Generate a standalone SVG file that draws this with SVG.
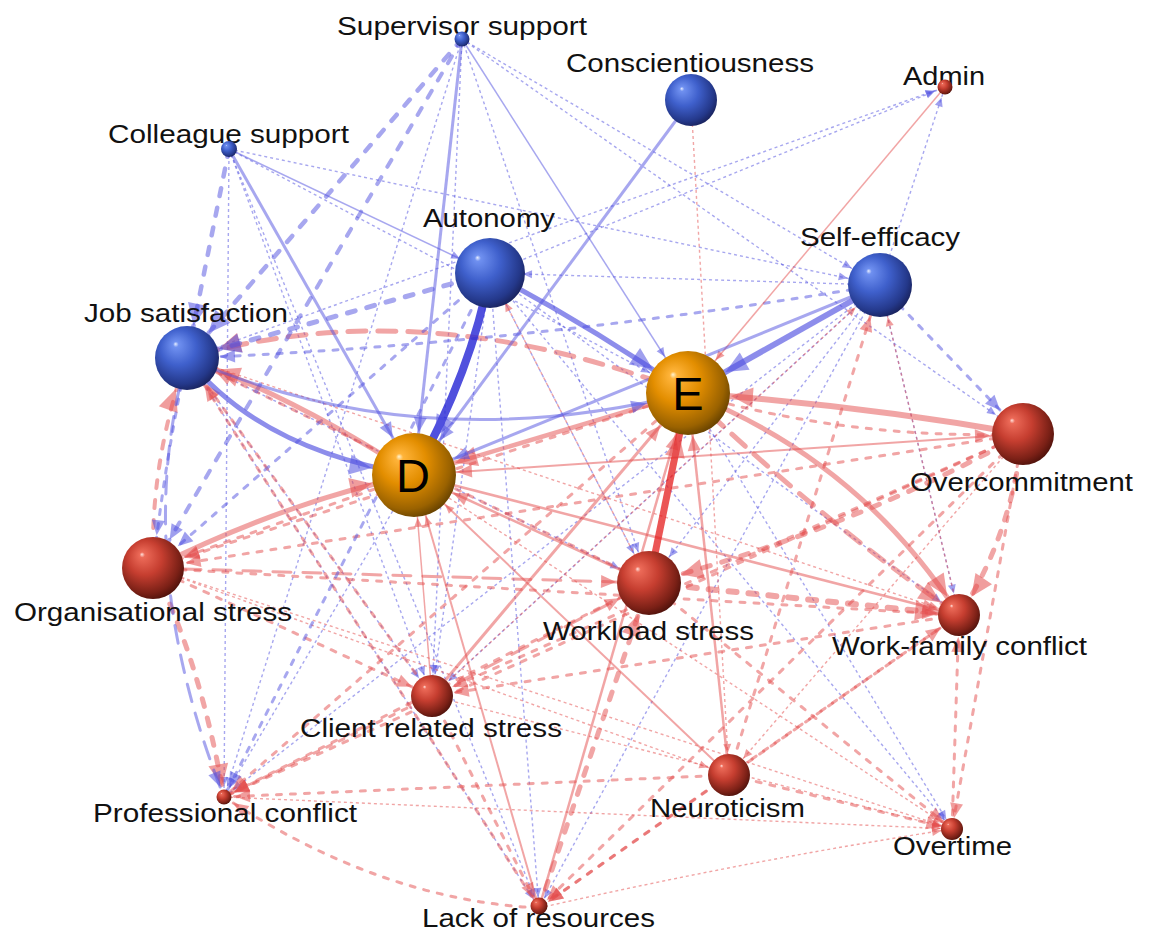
<svg xmlns="http://www.w3.org/2000/svg" width="1149" height="935" viewBox="0 0 1149 935">
<style>
.b{fill:none;stroke:#5050e0;stroke-opacity:.5}
.r{fill:none;stroke:#e44c4c;stroke-opacity:.5}
.bd{fill:none;stroke:#2a2ad6;stroke-opacity:.82}
.rd{fill:none;stroke:#e41c1c;stroke-opacity:.75}
.dot{stroke-width:1.4;stroke-dasharray:3 3}
.dsh{stroke-width:3;stroke-dasharray:5 9;stroke-linecap:round}
.thd{stroke-width:5;stroke-dasharray:8 12;stroke-linecap:round}
.lng{stroke-width:4.5;stroke-dasharray:18 12;stroke-linecap:round}
.mb path{fill:#5050e0;fill-opacity:.55}
.mr path{fill:#e44c4c;fill-opacity:.55}
.lbl{font-family:"Liberation Sans",Arial,sans-serif;font-size:26px;fill:#111}
.big{font-family:"Liberation Sans",Arial,sans-serif;font-size:47px;fill:#000;text-anchor:middle}
</style>
<defs>
<radialGradient id="gB" cx="0.42" cy="0.4" r="0.62" fx="0.32" fy="0.28">
<stop offset="0" stop-color="#e6edff"/><stop offset="0.07" stop-color="#6f90f0"/><stop offset="0.45" stop-color="#3f60cc"/><stop offset="0.85" stop-color="#24388a"/><stop offset="1" stop-color="#1a2460"/>
</radialGradient>
<radialGradient id="gR" cx="0.42" cy="0.4" r="0.62" fx="0.32" fy="0.28">
<stop offset="0" stop-color="#ffe2dc"/><stop offset="0.07" stop-color="#ec6a58"/><stop offset="0.45" stop-color="#c63e30"/><stop offset="0.85" stop-color="#7a2016"/><stop offset="1" stop-color="#52130c"/>
</radialGradient>
<radialGradient id="gO" cx="0.42" cy="0.4" r="0.62" fx="0.32" fy="0.28">
<stop offset="0" stop-color="#fff3d0"/><stop offset="0.07" stop-color="#ffb43a"/><stop offset="0.45" stop-color="#e38e00"/><stop offset="0.85" stop-color="#9a6200"/><stop offset="1" stop-color="#6a4400"/>
</radialGradient>
<marker id="bs1" class="mb" markerUnits="userSpaceOnUse" orient="auto" overflow="visible"><path d="M-11,0 L-20,-4 L-20,4Z"/></marker>
<marker id="bs2" class="mb" markerUnits="userSpaceOnUse" orient="auto" overflow="visible"><path d="M-11,0 L-26,-6.5 L-26,6.5Z"/></marker>
<marker id="bs3" class="mb" markerUnits="userSpaceOnUse" orient="auto" overflow="visible"><path d="M-11,0 L-33,-10 L-33,10Z"/></marker>
<marker id="bm1" class="mb" markerUnits="userSpaceOnUse" orient="auto" overflow="visible"><path d="M-22,0 L-31,-4 L-31,4Z"/></marker>
<marker id="bm2" class="mb" markerUnits="userSpaceOnUse" orient="auto" overflow="visible"><path d="M-22,0 L-37,-6.5 L-37,6.5Z"/></marker>
<marker id="bm3" class="mb" markerUnits="userSpaceOnUse" orient="auto" overflow="visible"><path d="M-22,0 L-44,-10 L-44,10Z"/></marker>
<marker id="bl1" class="mb" markerUnits="userSpaceOnUse" orient="auto" overflow="visible"><path d="M-33,0 L-42,-4 L-42,4Z"/></marker>
<marker id="bl2" class="mb" markerUnits="userSpaceOnUse" orient="auto" overflow="visible"><path d="M-33,0 L-48,-6.5 L-48,6.5Z"/></marker>
<marker id="bl3" class="mb" markerUnits="userSpaceOnUse" orient="auto" overflow="visible"><path d="M-33,0 L-55,-10 L-55,10Z"/></marker>
<marker id="bx1" class="mb" markerUnits="userSpaceOnUse" orient="auto" overflow="visible"><path d="M-43,0 L-52,-4 L-52,4Z"/></marker>
<marker id="bx2" class="mb" markerUnits="userSpaceOnUse" orient="auto" overflow="visible"><path d="M-43,0 L-58,-6.5 L-58,6.5Z"/></marker>
<marker id="bx3" class="mb" markerUnits="userSpaceOnUse" orient="auto" overflow="visible"><path d="M-43,0 L-65,-10 L-65,10Z"/></marker>
<marker id="rs1" class="mr" markerUnits="userSpaceOnUse" orient="auto" overflow="visible"><path d="M-11,0 L-20,-4 L-20,4Z"/></marker>
<marker id="rs2" class="mr" markerUnits="userSpaceOnUse" orient="auto" overflow="visible"><path d="M-11,0 L-26,-6.5 L-26,6.5Z"/></marker>
<marker id="rs3" class="mr" markerUnits="userSpaceOnUse" orient="auto" overflow="visible"><path d="M-11,0 L-33,-10 L-33,10Z"/></marker>
<marker id="rm1" class="mr" markerUnits="userSpaceOnUse" orient="auto" overflow="visible"><path d="M-22,0 L-31,-4 L-31,4Z"/></marker>
<marker id="rm2" class="mr" markerUnits="userSpaceOnUse" orient="auto" overflow="visible"><path d="M-22,0 L-37,-6.5 L-37,6.5Z"/></marker>
<marker id="rm3" class="mr" markerUnits="userSpaceOnUse" orient="auto" overflow="visible"><path d="M-22,0 L-44,-10 L-44,10Z"/></marker>
<marker id="rl1" class="mr" markerUnits="userSpaceOnUse" orient="auto" overflow="visible"><path d="M-33,0 L-42,-4 L-42,4Z"/></marker>
<marker id="rl2" class="mr" markerUnits="userSpaceOnUse" orient="auto" overflow="visible"><path d="M-33,0 L-48,-6.5 L-48,6.5Z"/></marker>
<marker id="rl3" class="mr" markerUnits="userSpaceOnUse" orient="auto" overflow="visible"><path d="M-33,0 L-55,-10 L-55,10Z"/></marker>
<marker id="rx1" class="mr" markerUnits="userSpaceOnUse" orient="auto" overflow="visible"><path d="M-43,0 L-52,-4 L-52,4Z"/></marker>
<marker id="rx2" class="mr" markerUnits="userSpaceOnUse" orient="auto" overflow="visible"><path d="M-43,0 L-58,-6.5 L-58,6.5Z"/></marker>
<marker id="rx3" class="mr" markerUnits="userSpaceOnUse" orient="auto" overflow="visible"><path d="M-43,0 L-65,-10 L-65,10Z"/></marker>
</defs>
<rect width="1149" height="935" fill="#fff"/>
<g id="connectors">
<g id="dotted">
<path class="b dot" d="M462,39 L224,797" marker-end="url(#bs1)"/>
<path class="b dot" d="M462,39 L649,583" marker-end="url(#bl1)"/>
<path class="b dot" d="M462,39 L1023,434" marker-end="url(#bl1)"/>
<path class="b dot" d="M462,39 L880,285" marker-end="url(#bl1)"/>
<path class="b dot" d="M462,39 L432,696" marker-end="url(#bm1)"/>
<path class="b dot" d="M229,149 L224,797" marker-end="url(#bs1)"/>
<path class="b dot" d="M229,149 L432,696" marker-end="url(#bm1)"/>
<path class="b dot" d="M229,149 L539,908" marker-end="url(#bs1)"/>
<path class="b dot" d="M229,149 L880,285" marker-end="url(#bl1)"/>
<path class="b dot" d="M229,149 L688,393" marker-end="url(#bx1)"/>
<path class="b dot" d="M490,273 L539,908" marker-end="url(#bs1)"/>
<path class="b dot" d="M490,273 L649,583" marker-end="url(#bl1)"/>
<path class="b dot" d="M490,273 L945,87" marker-end="url(#bs1)"/>
<path class="b dot" d="M490,273 L959,615" marker-end="url(#bm1)"/>
<path class="b dot" d="M490,273 L432,696" marker-end="url(#bm1)"/>
<path class="b dot" d="M490,273 L952,829" marker-end="url(#bs1)"/>
<path class="b dot" d="M880,285 L490,273" marker-end="url(#bl1)"/>
<path class="b dot" d="M880,285 L649,583" marker-end="url(#bl1)"/>
<path class="b dot" d="M880,285 L945,87" marker-end="url(#bs1)"/>
<path class="b dot" d="M880,285 L959,615" marker-end="url(#bm1)"/>
<path class="b dot" d="M880,285 L432,696" marker-end="url(#bm1)"/>
<path class="b dot" d="M880,285 L224,797" marker-end="url(#bs1)"/>
<path class="b dot" d="M880,285 L539,908" marker-end="url(#bs1)"/>
<path class="b dot" d="M187,358 L945,87" marker-end="url(#bs1)"/>
<path class="b dot" d="M187,358 L539,908" marker-end="url(#bs1)"/>
<path class="b dot" d="M187,358 L432,696" marker-end="url(#bm1)"/>
<path class="b dot" d="M187,358 L649,583" marker-end="url(#bl1)"/>
<path class="b dot" d="M688,393 L952,829" marker-end="url(#bs1)"/>
<path class="b dot" d="M414,475 L224,797" marker-end="url(#bs1)"/>
<path class="r dot" d="M691,100 L729,775" marker-end="url(#rm1)"/>
<path class="r dot" d="M153,568 L952,829" marker-end="url(#rs1)"/>
<path class="r dot" d="M539,908 Q750,860 952,829" marker-end="url(#rs1)"/>
<path class="r dot" d="M959,615 L880,285" marker-end="url(#rl1)"/>
<path class="r dot" d="M432,696 L880,285" marker-end="url(#rl1)"/>
<path class="r dot" d="M224,797 L952,829" marker-end="url(#rs1)"/>
<path class="r dot" d="M153,568 L729,775" marker-end="url(#rm1)"/>
<path class="r dot" d="M187,358 L959,615" marker-end="url(#rm1)"/>
<path class="r dot" d="M414,475 L952,829" marker-end="url(#rs1)"/>
<path class="r dot" d="M649,583 L490,273" marker-end="url(#rl1)"/>
<path class="r dot" d="M1023,434 L729,775" marker-end="url(#rm1)"/>
<path class="r dot" d="M432,696 L952,829" marker-end="url(#rs1)"/>
</g>
<g id="dashed">
<path class="r dsh" d="M1023,434 L952,829" marker-end="url(#rs2)"/>
<path class="r dsh" d="M1023,434 L224,797" marker-end="url(#rs2)"/>
<path class="r dsh" d="M1023,434 L432,696" marker-end="url(#rm2)"/>
<path class="r dsh" d="M1023,434 L539,908" marker-end="url(#rs2)"/>
<path class="r dsh" d="M1023,434 L153,568" marker-end="url(#rl2)"/>
<path class="r lng" style="stroke-width:3" d="M153,568 L649,583" marker-end="url(#rl2)"/>
<path class="r dsh" d="M153,568 L959,615" marker-end="url(#rm2)"/>
<path class="r dsh" d="M153,568 L432,696" marker-end="url(#rm2)"/>
<path class="r dsh" d="M432,696 L224,797" marker-end="url(#rs2)"/>
<path class="r dsh" d="M729,775 L952,829" marker-end="url(#rs2)"/>
<path class="r dsh" d="M539,908 Q380,900 224,797" marker-end="url(#rs2)"/>
<path class="r dsh" d="M649,583 L224,797" marker-end="url(#rs2)"/>
<path class="r dsh" d="M729,775 L224,797" marker-end="url(#rs2)"/>
<path class="r dsh" d="M432,696 L539,908" marker-end="url(#rs2)"/>
<path class="r dsh" d="M959,615 L539,908" marker-end="url(#rs2)"/>
<path class="r dsh" d="M729,775 L539,908" marker-end="url(#rs2)"/>
<path class="r dsh" d="M729,775 L880,285" marker-end="url(#rl2)"/>
<path class="r dsh" d="M414,475 L153,568" marker-end="url(#rl2)"/>
<path class="r dsh" d="M688,393 L224,797" marker-end="url(#rs2)"/>
<path class="r lng" style="stroke-width:3" d="M432,696 L649,583" marker-end="url(#rl2)"/>
<path class="r dsh" d="M952,829 L959,615" marker-end="url(#rm2)"/>
<path class="r dsh" d="M539,908 L187,358" marker-end="url(#rl2)"/>
<path class="r dsh" d="M432,696 L187,358" marker-end="url(#rl2)"/>
<path class="r dsh" d="M649,583 L187,358" marker-end="url(#rl2)"/>
<path class="r dsh" d="M729,775 L959,615" marker-end="url(#rm2)"/>
<path class="r dsh" d="M688,393 Q850,440 1023,434" marker-end="url(#rl2)"/>
<path class="r dsh" d="M688,393 L153,568" marker-end="url(#rl2)"/>
<path class="r dsh" d="M959,615 L432,696" marker-end="url(#rm2)"/>
<path class="r dsh" d="M649,583 L952,829" marker-end="url(#rs2)"/>
<path class="r thd" d="M539,908 L649,583" marker-end="url(#rl3)"/>
<path class="r thd" d="M1023,434 Q1010,540 959,615" marker-end="url(#rm3)"/>
<path class="r thd" d="M1023,434 Q850,530 649,583" marker-end="url(#rl3)"/>
<path class="r thd" style="stroke-width:4" d="M153,568 Q150,460 187,358" marker-end="url(#rl3)"/>
<path class="r thd" d="M153,568 Q200,660 224,797" marker-end="url(#rs3)"/>
<path class="r thd" style="stroke-width:6" d="M649,583 L959,615" marker-end="url(#rm3)"/>
<path class="r lng" style="stroke-width:5" d="M688,393 Q420,290 187,358" marker-end="url(#rl3)"/>
<path class="r lng" style="stroke-width:5" d="M688,393 Q820,520 959,615" marker-end="url(#rm3)"/>
<path class="b thd" style="stroke-width:4.5" d="M462,39 L187,358" marker-end="url(#bl3)"/>
<path class="b thd" style="stroke-width:4" d="M462,39 L153,568" marker-end="url(#bl2)"/>
<path class="b thd" style="stroke-width:4.5" d="M229,149 L187,358" marker-end="url(#bl3)"/>
<path class="b thd" d="M490,273 L187,358" marker-end="url(#bl3)"/>
<path class="b dsh" d="M490,273 L153,568" marker-end="url(#bl2)"/>
<path class="b dsh" d="M490,273 L224,797" marker-end="url(#bs2)"/>
<path class="b dsh" d="M880,285 Q520,345 187,358" marker-end="url(#bl2)"/>
<path class="b dsh" d="M880,285 L1023,434" marker-end="url(#bl2)"/>
<path class="b dsh" d="M187,358 Q165,460 153,568" marker-end="url(#bl2)"/>
<path class="b lng" style="stroke-width:3" d="M187,358 Q130,560 224,797" marker-end="url(#bs2)"/>
</g>
<g id="solid">
<path class="r" style="stroke-width:1.5" d="M945,87 L688,393" marker-end="url(#rx1)"/>
<path class="r" style="stroke-width:2" d="M1023,434 L414,475" marker-end="url(#rx2)"/>
<path class="r" style="stroke-width:2" d="M729,775 L414,475" marker-end="url(#rx1)"/>
<path class="r" style="stroke-width:1.5" d="M432,696 L414,475" marker-end="url(#rx1)"/>
<path class="r" style="stroke-width:2" d="M539,908 L414,475" marker-end="url(#rx1)"/>
<path class="r" style="stroke-width:2.5" d="M414,475 L959,615" marker-end="url(#rm2)"/>
<path class="r" style="stroke-width:2.5" d="M649,583 L414,475" marker-end="url(#rx2)"/>
<path class="r" style="stroke-width:2.5" d="M539,908 L688,393" marker-end="url(#rx2)"/>
<path class="r" style="stroke-width:2.5" d="M729,775 L688,393" marker-end="url(#rx2)"/>
<path class="r" style="stroke-width:3" d="M432,696 L688,393" marker-end="url(#rx2)"/>
<path class="r" style="stroke-width:4.5" d="M688,393 L414,475" marker-end="url(#rx3)"/>
<path class="r" style="stroke-width:5" d="M414,475 Q300,400 187,358" marker-end="url(#rl3)"/>
<path class="r" style="stroke-width:5" d="M153,568 Q290,500 414,475" marker-end="url(#rx3)"/>
<path class="r" style="stroke-width:5" d="M688,393 Q860,460 959,615" marker-end="url(#rm3)"/>
<path class="r" style="stroke-width:6" d="M1023,434 Q860,405 688,393" marker-end="url(#rx3)"/>
<path class="rd" style="stroke-width:7" d="M649,583 L688,393" marker-end="url(#rx3)"/>
<path class="b" style="stroke-width:1.5" d="M462,39 L688,393" marker-end="url(#bx1)"/>
<path class="b" style="stroke-width:1.5" d="M229,149 L490,273" marker-end="url(#bl1)"/>
<path class="b" style="stroke-width:3" d="M691,100 L414,475" marker-end="url(#bx2)"/>
<path class="b" style="stroke-width:3" d="M462,39 L414,475" marker-end="url(#bx2)"/>
<path class="b" style="stroke-width:3" d="M229,149 L414,475" marker-end="url(#bx2)"/>
<path class="b" style="stroke-width:3" d="M880,285 L414,475" marker-end="url(#bx2)"/>
<path class="b" style="stroke-width:3" d="M187,358 Q420,460 688,393" marker-end="url(#bx2)"/>
<path class="b" style="stroke-width:5;stroke-opacity:.65" d="M187,358 Q260,450 414,475" marker-end="url(#bx3)"/>
<path class="b" style="stroke-width:5;stroke-opacity:.65" d="M490,273 Q589,325 688,393" marker-end="url(#bx3)"/>
<path class="b" style="stroke-width:6;stroke-opacity:.65" d="M880,285 L688,393" marker-end="url(#bx3)"/>
<path class="bd" style="stroke-width:8" d="M490,273 Q472,370 414,475" marker-end="url(#bx3)"/>
</g>
</g>
<g id="node-supervisor-support"><text class="lbl" x="337" y="35" textLength="250" lengthAdjust="spacingAndGlyphs">Supervisor support</text><circle cx="462" cy="39" r="7.5" fill="url(#gB)"/></g>
<g id="node-conscientiousness"><text class="lbl" x="566" y="72" textLength="248" lengthAdjust="spacingAndGlyphs">Conscientiousness</text><circle cx="691" cy="100" r="26" fill="url(#gB)"/></g>
<g id="node-admin"><text class="lbl" x="903" y="85" textLength="82" lengthAdjust="spacingAndGlyphs">Admin</text><circle cx="945" cy="87" r="7.5" fill="url(#gR)"/></g>
<g id="node-colleague-support"><text class="lbl" x="108" y="143" textLength="241" lengthAdjust="spacingAndGlyphs">Colleague support</text><circle cx="229" cy="149" r="8" fill="url(#gB)"/></g>
<g id="node-autonomy"><text class="lbl" x="423" y="227" textLength="132" lengthAdjust="spacingAndGlyphs">Autonomy</text><circle cx="490" cy="273" r="35" fill="url(#gB)"/></g>
<g id="node-self-efficacy"><text class="lbl" x="800" y="246" textLength="160" lengthAdjust="spacingAndGlyphs">Self-efficacy</text><circle cx="880" cy="285" r="32" fill="url(#gB)"/></g>
<g id="node-job-satisfaction"><text class="lbl" x="84" y="322" textLength="204" lengthAdjust="spacingAndGlyphs">Job satisfaction</text><circle cx="187" cy="358" r="32" fill="url(#gB)"/></g>
<g id="node-E"><circle cx="688" cy="393" r="42" fill="url(#gO)"/><text class="big" x="688" y="410">E</text></g>
<g id="node-overcommitment"><text class="lbl" x="910" y="491" textLength="223" lengthAdjust="spacingAndGlyphs">Overcommitment</text><circle cx="1023" cy="434" r="31" fill="url(#gR)"/></g>
<g id="node-D"><circle cx="414" cy="475" r="42" fill="url(#gO)"/><text class="big" x="413" y="492">D</text></g>
<g id="node-organisational-stress"><text class="lbl" x="14" y="621" textLength="278" lengthAdjust="spacingAndGlyphs">Organisational stress</text><circle cx="153" cy="568" r="31" fill="url(#gR)"/></g>
<g id="node-workload-stress"><text class="lbl" x="543" y="640" textLength="211" lengthAdjust="spacingAndGlyphs">Workload stress</text><circle cx="649" cy="583" r="32" fill="url(#gR)"/></g>
<g id="node-work-family-conflict"><text class="lbl" x="832" y="655" textLength="255" lengthAdjust="spacingAndGlyphs">Work-family conflict</text><circle cx="959" cy="615" r="21" fill="url(#gR)"/></g>
<g id="node-client-related-stress"><text class="lbl" x="300" y="737" textLength="262" lengthAdjust="spacingAndGlyphs">Client related stress</text><circle cx="432" cy="696" r="21" fill="url(#gR)"/></g>
<g id="node-neuroticism"><text class="lbl" x="650" y="817" textLength="155" lengthAdjust="spacingAndGlyphs">Neuroticism</text><circle cx="729" cy="775" r="21" fill="url(#gR)"/></g>
<g id="node-professional-conflict"><text class="lbl" x="93" y="822" textLength="264" lengthAdjust="spacingAndGlyphs">Professional conflict</text><circle cx="224" cy="797" r="7.5" fill="url(#gR)"/></g>
<g id="node-overtime"><text class="lbl" x="893" y="855" textLength="119" lengthAdjust="spacingAndGlyphs">Overtime</text><circle cx="952" cy="829" r="11" fill="url(#gR)"/></g>
<g id="node-lack-of-resources"><text class="lbl" x="422" y="927" textLength="233" lengthAdjust="spacingAndGlyphs">Lack of resources</text><circle cx="539" cy="906" r="8.5" fill="url(#gR)"/></g>
</svg>
